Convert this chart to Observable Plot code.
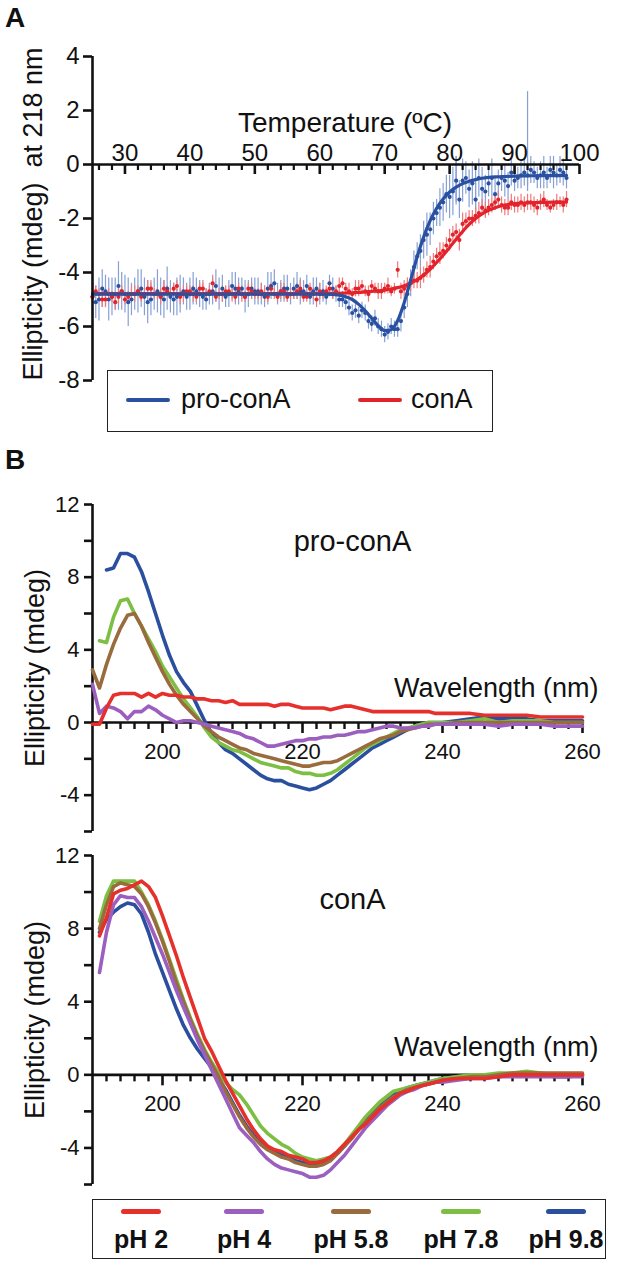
<!DOCTYPE html>
<html><head><meta charset="utf-8">
<script src="https://cdn.jsdelivr.net/npm/d3@7"></script>
<script src="https://cdn.jsdelivr.net/npm/@observablehq/plot@0.6"></script>
<style>
body{margin:0;background:#fff;font-family:"Liberation Sans",Arial,Helvetica,sans-serif;color:#111;}
#fig{position:relative;width:633px;height:1263px;overflow:hidden;background:#fff;}
.plabel{position:absolute;font-weight:bold;font-size:28px;line-height:1;}
.legend{position:absolute;border:1.5px solid #222;box-sizing:border-box;}
.lg-line{position:absolute;height:4px;border-radius:2px;}
.lg-text{position:absolute;white-space:nowrap;line-height:1;}
.ytitle{position:absolute;white-space:pre;line-height:1;transform:translate(-50%,-50%) rotate(-90deg);}
</style></head><body><div id="fig"></div>
<script>
// ---------------- Panel A data ----------------
const temps = [25,26,27,28,29,30,31,32,33,34,35,36,37,38,39,40,41,42,43,44,45,46,47,48,49,50,51,52,53,54,55,56,57,58,59,60,61,62,63,64,65,66,67,68,69,70,71,72,73,74,75,76,77,78,79,80,81,82,83,84,85,86,87,88,89,90,91,92,93,94,95,96,97,98];
const proConAVals = [-4.9,-5.0,-4.7,-4.9,-4.5,-4.8,-5.0,-4.7,-4.9,-5.0,
  -4.7,-5.0,-4.9,-4.9,-4.7,-4.8,-4.7,-4.9,-4.8,-4.5,
  -4.6,-4.8,-4.6,-4.6,-4.8,-4.7,-4.8,-4.6,-4.4,-4.7,
  -4.6,-4.6,-4.7,-4.5,-4.7,-4.8,-4.9,-4.6,-5.0,-5.1,
  -5.5,-5.6,-5.5,-5.9,-6.0,-6.3,-6.0,-6.1,-5.3,-4.4,
  -3.4,-2.8,-2.4,-1.8,-1.4,-1.2,-0.6,-0.6,-0.9,-1.3,
  -0.9,-0.7,-1.1,-0.5,-0.8,-0.6,-0.4,-0.4,-0.3,-0.4,
  -0.5,-0.3,-0.2,-0.5];
const proConAErr = [0.7,0.8,0.6,0.7,0.9,0.7,0.6,0.8,0.7,0.6,
  0.8,0.7,0.6,0.7,0.5,0.6,0.5,0.5,0.4,0.6,
  0.5,0.5,0.6,0.4,0.5,0.5,0.4,0.6,0.5,0.4,
  0.5,0.4,0.5,0.4,0.5,0.4,0.3,0.4,0.3,0.3,
  0.3,0.3,0.3,0.3,0.3,0.3,0.3,0.3,0.4,0.5,
  0.5,0.7,0.6,0.5,0.7,0.8,0.9,0.8,0.7,0.6,
  0.8,0.5,0.6,0.5,0.5,0.4,0.5,0.6,0.4,0.5,
  0.4,0.6,0.5,0.4];
const conAVals = [-4.9,-4.8,-5.0,-4.9,-4.9,-5.0,-4.8,-4.7,-4.8,-4.6,
  -4.8,-4.6,-4.8,-4.5,-4.8,-4.7,-4.9,-4.6,-4.7,-4.9,
  -4.8,-4.7,-4.9,-4.8,-4.6,-4.8,-4.7,-4.9,-4.8,-4.7,
  -4.9,-4.8,-4.6,-4.9,-4.8,-4.7,-4.7,-4.8,-4.5,-4.6,
  -4.8,-4.6,-4.7,-4.5,-4.7,-4.6,-4.7,-3.9,-4.6,-4.4,
  -4.3,-4.1,-3.8,-3.4,-3.2,-2.8,-2.5,-2.2,-2.0,-1.9,
  -1.6,-1.6,-1.4,-1.5,-1.6,-1.5,-1.4,-1.4,-1.5,-1.4,
  -1.5,-1.5,-1.4,-1.3];
const conAErr = [0.3,0.2,0.3,0.2,0.3,0.2,0.3,0.2,0.2,0.3,
  0.2,0.3,0.2,0.2,0.3,0.2,0.2,0.3,0.2,0.2,
  0.3,0.2,0.2,0.3,0.2,0.2,0.3,0.2,0.2,0.3,
  0.2,0.2,0.3,0.2,0.2,0.3,0.2,0.2,0.3,0.2,
  0.2,0.3,0.2,0.2,0.3,0.2,0.2,0.3,0.3,0.3,
  0.3,0.3,0.4,0.3,0.3,0.4,0.3,0.4,0.3,0.3,
  0.3,0.3,0.3,0.3,0.3,0.3,0.3,0.3,0.3,0.3,
  0.2,0.2,0.2,0.3];
// half-degree readings
const tempsHalf = [25.5,26.5,27.5,28.5,29.5,30.5,31.5,32.5,33.5,34.5,35.5,36.5,37.5,38.5,39.5,40.5,41.5,42.5,43.5,44.5,45.5,46.5,47.5,48.5,49.5,50.5,51.5,52.5,53.5,54.5,55.5,56.5,57.5,58.5,59.5,60.5,61.5,62.5,63.5,64.5,65.5,66.5,67.5,68.5,69.5,70.5,71.5,72.5,73.5,74.5,75.5,76.5,77.5,78.5,79.5,80.5,81.5,82.5,83.5,84.5,85.5,86.5,87.5,88.5,89.5,90.5,91.5,92.5,93.5,94.5,95.5,96.5,97.5];
const proConAHalfVals = [-5.1,-4.6,-5.0,-4.8,-4.7,-5.1,-4.8,-4.6,-5.1,-4.8,
  -4.9,-4.6,-5.0,-4.8,-4.9,-4.6,-4.8,-5.0,-4.7,-4.8,
  -4.9,-4.5,-4.7,-4.9,-4.6,-4.7,-4.9,-4.5,-4.8,-4.6,
  -4.8,-4.5,-4.7,-4.9,-4.6,-4.7,-4.4,-4.8,-5.0,-5.3,
  -5.4,-5.4,-5.8,-5.7,-6.1,-6.2,-6.1,-5.8,-4.8,-3.8,
  -3.2,-2.6,-2.0,-1.6,-1.1,-1.0,-1.3,-0.5,-0.7,-0.5,
  -1.0,-0.5,-0.7,-0.6,-0.3,-0.5,-0.3,-0.2,-0.5,-0.3,
  -0.2,-0.4,-0.3];
const proConAHalfErr = [0.6,0.7,0.8,0.6,0.7,0.9,0.6,0.7,0.8,0.6,
  0.7,0.8,0.6,0.7,0.5,0.6,0.5,0.4,0.5,0.6,
  0.4,0.5,0.5,0.6,0.4,0.5,0.4,0.5,0.4,0.5,
  0.4,0.5,0.4,0.3,0.4,0.4,0.3,0.3,0.3,0.3,
  0.3,0.3,0.3,0.3,0.3,0.3,0.3,0.4,0.5,0.6,
  0.6,0.8,0.6,0.7,0.7,0.9,0.7,0.6,0.8,0.7,
  0.6,0.7,0.5,0.6,0.5,0.4,0.5,0.5,0.4,0.6,
  0.5,0.4,0.5];
const conAHalfVals = [-4.7,-5.0,-4.8,-5.1,-4.7,-4.9,-4.8,-4.9,-4.6,-4.8,
  -4.9,-4.7,-4.6,-4.9,-4.7,-4.8,-4.6,-4.8,-4.4,-4.8,
  -4.7,-4.8,-4.6,-4.9,-4.7,-4.8,-4.8,-4.6,-4.9,-4.7,
  -4.8,-4.7,-4.9,-4.6,-5.0,-4.8,-4.6,-4.7,-4.4,-4.7,
  -4.6,-4.5,-4.8,-4.6,-4.7,-4.5,-4.6,-4.7,-4.5,-4.3,
  -4.2,-3.9,-3.6,-3.3,-3.0,-2.6,-2.8,-2.1,-2.0,-1.8,
  -1.7,-1.5,-1.3,-1.6,-1.4,-1.5,-1.5,-1.4,-1.6,-1.3,
  -1.6,-1.4,-1.5];
const conAHalfErr = [0.2,0.3,0.2,0.3,0.2,0.2,0.3,0.2,0.3,0.2,
  0.3,0.2,0.2,0.3,0.2,0.3,0.2,0.2,0.3,0.2,
  0.2,0.3,0.2,0.2,0.3,0.2,0.3,0.2,0.2,0.3,
  0.2,0.3,0.2,0.2,0.3,0.2,0.3,0.2,0.2,0.3,
  0.3,0.2,0.3,0.2,0.3,0.3,0.2,0.3,0.3,0.3,
  0.4,0.3,0.3,0.4,0.3,0.3,0.4,0.3,0.3,0.4,
  0.3,0.3,0.3,0.3,0.3,0.3,0.3,0.3,0.3,0.3,
  0.2,0.3,0.3];
const proConALongBars = [{t:92, lo:-0.8, hi:2.7},{t:81, lo:-1.4, hi:0.3},{t:84, lo:-2.0, hi:-0.2}];
const fitTemps = [25,60,62,63,64,65,66,67,68,69,70,71,72,73,74,75,76,77,78,79,80,81,82,83,84,85,86,87,88,89,90,92,94,96,98];
const proConAFit = [-4.8,-4.8,-4.81,-4.84,-4.9,-5.0,-5.18,-5.42,-5.7,-5.97,-6.15,-6.12,-5.78,-5.12,-4.28,-3.42,-2.68,-2.08,-1.62,-1.28,-1.02,-0.84,-0.71,-0.62,-0.56,-0.51,-0.48,-0.46,-0.45,-0.44,-0.43,-0.42,-0.41,-0.41,-0.4];
const conAFit = [-4.78,-4.78,-4.77,-4.77,-4.76,-4.75,-4.74,-4.72,-4.7,-4.68,-4.65,-4.61,-4.56,-4.49,-4.39,-4.26,-4.09,-3.88,-3.63,-3.36,-3.07,-2.77,-2.48,-2.22,-2.0,-1.83,-1.7,-1.6,-1.53,-1.48,-1.45,-1.42,-1.4,-1.39,-1.39];
const tempMajorTicks = [30,40,50,60,70,80,90,100];
const tempMinorTicks = [26,28,32,34,36,38,42,44,46,48,52,54,56,58,62,64,66,68,72,74,76,78,82,84,86,88,92,94,96,98];
const ellipTicksA = [-8,-6,-4,-2,0,2,4];

// ---------------- Panel B data ----------------
const wavelengths = [190,191,192,193,194,195,196,197,198,199,200,201,202,203,204,205,206,207,208,209,210,211,212,213,214,215,216,217,218,219,220,221,222,223,224,225,226,227,228,229,230,231,232,233,234,235,236,237,238,239,240,242,244,246,248,250,252,254,256,258,260];
const phLabels = ["pH 2","pH 4","pH 5.8","pH 7.8","pH 9.8"];
const phColors = ["#e5302c","#9b5fc0","#9a6b3c","#7cbf42","#2b4f9f"];
// pro-conA spectra
const pro_pH2 = [-0.1,-0.1,0.8,1.5,1.6,1.6,1.6,1.4,1.6,1.4,
  1.6,1.5,1.5,1.4,1.4,1.3,1.3,1.2,1.2,1.1,
  1.2,1.0,1.0,1.0,1.0,1.0,0.9,1.0,1.0,0.9,
  0.8,0.8,0.8,0.8,0.7,0.8,0.9,0.9,0.8,0.7,
  0.6,0.6,0.6,0.6,0.6,0.6,0.6,0.6,0.6,0.5,
  0.5,
  0.5,0.5,0.4,0.4,0.4,0.4,0.3,0.3,0.3,0.3];
const pro_pH4 = [2.1,0.5,0.9,0.8,0.6,0.2,0.6,0.6,0.9,0.7,
  0.4,0.2,0.0,0.1,0.1,0.0,-0.1,-0.2,-0.3,-0.4,
  -0.5,-0.6,-0.8,-0.9,-1.1,-1.3,-1.3,-1.2,-1.1,-1.0,
  -1.0,-0.9,-0.9,-0.8,-0.8,-0.7,-0.7,-0.6,-0.5,-0.5,
  -0.4,-0.3,-0.2,-0.2,-0.3,-0.3,-0.3,-0.2,-0.2,-0.1,
  -0.1,
  -0.1,-0.1,-0.1,-0.2,-0.1,-0.1,-0.1,-0.2,-0.2,-0.2];
const pro_pH58 = [2.9,1.9,3.2,4.3,5.2,5.9,6.0,5.3,4.4,3.6,
  2.8,2.1,1.5,1.0,0.6,0.2,-0.2,-0.5,-0.8,-1.0,
  -1.2,-1.4,-1.5,-1.7,-1.8,-1.9,-2.0,-2.1,-2.2,-2.3,
  -2.4,-2.4,-2.3,-2.2,-2.2,-2.1,-1.9,-1.7,-1.5,-1.3,
  -1.1,-0.9,-0.8,-0.7,-0.5,-0.4,-0.3,-0.2,-0.1,-0.1,
  -0.1,
  0.0,0.0,0.0,0.0,0.0,0.0,0.0,0.0,0.0,0.0];
const pro_pH78 = [null,4.5,4.4,5.8,6.7,6.8,6.0,5.3,4.6,3.9,
  3.1,2.5,1.9,1.3,0.8,0.3,-0.3,-0.8,-1.1,-1.3,
  -1.5,-1.6,-1.8,-2.0,-2.2,-2.3,-2.4,-2.5,-2.5,-2.7,
  -2.8,-2.8,-2.9,-2.9,-2.8,-2.6,-2.3,-2.0,-1.7,-1.4,
  -1.2,-1.0,-0.8,-0.6,-0.4,-0.3,-0.2,-0.1,0.0,0.0,
  0.0,
  0.0,0.1,0.2,0.0,0.1,0.1,0.1,0.0,0.0,0.0];
const pro_pH98 = [null,null,8.4,8.5,9.3,9.3,9.1,8.3,7.2,6.0,
  4.8,3.7,2.8,2.2,1.7,0.9,0.1,-0.6,-1.1,-1.5,
  -1.7,-2.0,-2.3,-2.6,-2.9,-3.1,-3.2,-3.2,-3.4,-3.5,
  -3.6,-3.7,-3.6,-3.4,-3.2,-2.9,-2.6,-2.3,-2.0,-1.7,
  -1.4,-1.2,-1.0,-0.8,-0.6,-0.4,-0.2,-0.1,0.0,0.0,
  0.0,
  0.1,0.2,0.3,0.2,0.2,0.2,0.1,0.1,0.1,0.1];
// conA spectra
const con_pH2 = [null,7.6,8.6,9.9,10.1,10.2,10.4,10.6,10.3,9.7,
  8.7,7.6,6.5,5.3,4.2,3.1,2.0,1.3,0.5,-0.3,
  -1.0,-1.7,-2.4,-3.0,-3.5,-3.9,-4.1,-4.2,-4.4,-4.5,
  -4.6,-4.8,-4.8,-4.7,-4.5,-4.2,-3.8,-3.4,-3.0,-2.7,
  -2.3,-1.9,-1.6,-1.3,-1.0,-0.9,-0.7,-0.6,-0.5,-0.4,
  -0.3,
  -0.2,-0.2,-0.2,-0.1,0.0,0.0,0.0,0.0,0.0,0.0];
const con_pH4 = [null,5.6,7.8,9.3,9.8,9.7,9.7,9.2,8.4,7.5,
  6.6,5.6,4.6,3.7,2.8,1.9,1.1,0.3,-0.5,-1.3,
  -2.1,-2.9,-3.3,-3.7,-4.2,-4.6,-4.9,-5.1,-5.2,-5.3,
  -5.4,-5.6,-5.6,-5.5,-5.2,-4.8,-4.4,-3.9,-3.4,-2.9,
  -2.5,-2.1,-1.7,-1.4,-1.1,-0.9,-0.8,-0.6,-0.5,-0.4,
  -0.4,
  -0.3,-0.2,-0.2,-0.1,-0.1,-0.1,-0.1,-0.1,-0.1,-0.1];
const con_pH58 = [null,8.0,9.3,10.3,10.5,10.4,10.3,9.9,9.2,8.3,
  7.3,6.2,5.0,4.0,3.0,2.1,1.3,0.6,-0.1,-0.9,
  -1.6,-2.3,-2.9,-3.4,-3.8,-4.1,-4.3,-4.5,-4.6,-4.8,
  -4.9,-5.0,-5.0,-4.9,-4.7,-4.3,-3.9,-3.5,-3.0,-2.6,
  -2.2,-1.8,-1.5,-1.2,-1.0,-0.8,-0.7,-0.6,-0.5,-0.4,
  -0.3,
  -0.2,-0.1,-0.1,0.0,0.1,0.1,0.1,0.1,0.1,0.1];
const con_pH78 = [null,8.4,9.8,10.6,10.6,10.6,10.6,10.0,9.3,8.4,
  7.4,6.3,5.2,4.1,3.1,2.2,1.4,0.7,0.1,-0.4,
  -0.8,-1.1,-1.6,-2.2,-2.8,-3.2,-3.5,-3.8,-4.0,-4.3,
  -4.5,-4.6,-4.7,-4.6,-4.5,-4.2,-3.8,-3.3,-2.8,-2.3,
  -1.9,-1.5,-1.2,-0.9,-0.8,-0.7,-0.6,-0.5,-0.4,-0.3,
  -0.2,
  -0.1,0.0,0.0,0.1,0.1,0.2,0.1,0.0,0.0,0.0];
const con_pH98 = [null,7.8,8.5,8.9,9.2,9.4,9.3,8.8,7.8,6.6,
  5.6,4.6,3.6,2.7,2.0,1.4,0.9,0.4,-0.2,-0.8,
  -1.5,-2.2,-2.8,-3.3,-3.7,-4.0,-4.2,-4.4,-4.5,-4.7,
  -4.8,-4.9,-4.9,-4.8,-4.6,-4.3,-3.9,-3.4,-3.0,-2.5,
  -2.1,-1.7,-1.4,-1.1,-0.9,-0.7,-0.6,-0.5,-0.4,-0.3,
  -0.2,
  -0.1,-0.1,-0.1,-0.1,0.0,0.0,0.0,-0.1,-0.1,0.0];
const wlMajorTicks = [200,220,240,260];
const wlMinorTicks = [192,194,196,198,202,204,206,208,210,212,214,216,218,222,224,226,228,230,232,234,236,238,242,244,246,248,250,252,254,256,258];
const ellipTicksB = [-4,0,4,8,12];
const ellipMinorB = [-6,-2,2,6,10];

// ---------------- helpers ----------------
const FONT = "'Liberation Sans', Arial, Helvetica, sans-serif";
const W = 633;
const fig = document.getElementById("fig");
const INK = "#111";
function put(el, top, left){ el.style.position="absolute"; el.style.top=top+"px"; el.style.left=(left||0)+"px"; fig.appendChild(el); }
function div(cls, html, css){ const d=document.createElement("div"); if(cls) d.className=cls; if(html!=null) d.textContent=html; if(css) Object.assign(d.style, css); return d; }
function yTitle(text, cx, cy, size){ const d=div("ytitle", text, {left:cx+"px", top:cy+"px", fontSize:size+"px"}); fig.appendChild(d); }

// ---------------- Panel A ----------------
(function(){
  const mT=56, mB=12, mL=92, mR=54, h=392;
  const xDom=[25,100], yDom=[-8,4];
  const ky=(h-mT-mB)/(yDom[1]-yDom[0]);
  const kx=(W-mL-mR)/(xDom[1]-xDom[0]);
  const blueC="#2a50a0", redC="#e3232b", blueBar="#86a0d6", redBar="#ef7a7a";
  const pro = temps.map((t,i)=>({t, v:proConAVals[i], e:proConAErr[i]}))
    .concat(tempsHalf.map((t,i)=>({t, v:proConAHalfVals[i], e:proConAHalfErr[i]})));
  const con = temps.map((t,i)=>({t, v:conAVals[i], e:conAErr[i]}))
    .concat(tempsHalf.map((t,i)=>({t, v:conAHalfVals[i], e:conAHalfErr[i]})));
  const fit = fitTemps.map((t,i)=>({t, pro:proConAFit[i], con:conAFit[i]}));
  const p = Plot.plot({
    width:W, height:h, marginTop:mT, marginBottom:mB, marginLeft:mL, marginRight:mR,
    x:{domain:xDom, axis:null}, y:{domain:yDom, axis:null},
    style:{background:"transparent", overflow:"visible", fontFamily:FONT, color:INK},
    marks:[
      Plot.ruleX(pro,{x:"t", y1:d=>d.v-d.e, y2:d=>d.v+d.e, stroke:blueBar, strokeWidth:1.2}),
      Plot.ruleX(proConALongBars,{x:"t", y1:"lo", y2:"hi", stroke:blueBar, strokeWidth:1.2}),
      Plot.ruleX(con,{x:"t", y1:d=>d.v-d.e, y2:d=>d.v+d.e, stroke:redBar, strokeWidth:1.2}),
      Plot.dot(pro,{x:"t", y:"v", r:2.1, fill:blueC}),
      Plot.dot(con,{x:"t", y:"v", r:2.1, fill:redC}),
      Plot.line(fit,{x:"t", y:"con", stroke:redC, strokeWidth:3.2, curve:"monotone-x"}),
      Plot.line(fit,{x:"t", y:"pro", stroke:blueC, strokeWidth:3.2, curve:"monotone-x"}),
      // x axis on y = 0
      Plot.ruleY([0],{x1:xDom[0], x2:xDom[1], stroke:INK, strokeWidth:2.6}),
      Plot.ruleX(tempMajorTicks,{x:d=>d, y1:0, y2:-10/ky, stroke:INK, strokeWidth:2.6}),
      Plot.ruleX(tempMinorTicks,{x:d=>d, y1:0, y2:-6/ky, stroke:INK, strokeWidth:2.2}),
      Plot.text(tempMajorTicks,{x:d=>d, y:0, text:d=>String(d), dy:-4, lineAnchor:"bottom", fontSize:24, fill:INK}),
      // y axis
      Plot.ruleX([xDom[0]],{y1:yDom[0], y2:yDom[1], stroke:INK, strokeWidth:2.6}),
      Plot.ruleY(ellipTicksA,{y:d=>d, x1:xDom[0], x2:xDom[0]-9/kx, stroke:INK, strokeWidth:2.6}),
      Plot.text(ellipTicksA,{x:xDom[0], y:d=>d, text:d=>String(d), dx:-13, textAnchor:"end", fontSize:24, fill:INK}),
      Plot.text(["Temperature (\u00baC)"],{frameAnchor:"top", dx:9, dy:56, fontSize:28, fill:INK})
    ]
  });
  put(p, 0, 0);
  yTitle("Ellipticity (mdeg)  at 218 nm", 33, 214, 27);
  // legend A
  const lg = div("legend", null, {left:"107px", top:"370px", width:"386px", height:"62px"});
  fig.appendChild(lg);
  const entries=[{c:blueC, t:"pro-conA", lx:18, tx:73},{c:redC, t:"conA", lx:250, tx:303}];
  entries.forEach(e=>{
    lg.appendChild(div("lg-line", null, {left:e.lx+"px", top:"27px", width:"44px", background:e.c, height:"3.5px"}));
    lg.appendChild(div("lg-text", e.t, {left:e.tx+"px", top:"15px", fontSize:"27px"}));
  });
  put(div("plabel","A"), 4, 5);
})();

// ---------------- Panel B ----------------
function spectraPanel(series, title, titleDy, top, mT, frameH, wlDy){
  const mB=12, mL=92, mR=51, h=mT+frameH+mB;
  const xDom=[190,260], yDom=[-6,12];
  const ky=frameH/(yDom[1]-yDom[0]);
  const kx=(W-mL-mR)/(xDom[1]-xDom[0]);
  const rows=[];
  // draw order: 9.8, 7.8, 5.8, 4, 2 (pH 2 on top)
  [4,3,2,1,0].forEach(k=>{
    series[k].forEach((v,i)=>{ if(v!=null) rows.push({w:wavelengths[i], v, ph:phLabels[k]}); });
  });
  const p = Plot.plot({
    width:W, height:h, marginTop:mT, marginBottom:mB, marginLeft:mL, marginRight:mR,
    x:{domain:xDom, axis:null}, y:{domain:yDom, axis:null},
    color:{domain:phLabels, range:phColors},
    style:{background:"transparent", overflow:"visible", fontFamily:FONT, color:INK},
    marks:[
      Plot.ruleY([0],{x1:xDom[0], x2:xDom[1], stroke:INK, strokeWidth:2.6}),
      Plot.ruleX(wlMajorTicks,{x:d=>d, y1:0, y2:-11/ky, stroke:INK, strokeWidth:2.6}),
      Plot.ruleX(wlMinorTicks,{x:d=>d, y1:0, y2:-7/ky, stroke:INK, strokeWidth:2.4}),
      Plot.text(wlMajorTicks,{x:d=>d, y:0, text:d=>String(d), dy:29, fontSize:22, fill:INK}),
      Plot.ruleX([xDom[0]],{y1:yDom[0], y2:yDom[1], stroke:INK, strokeWidth:2.6}),
      Plot.ruleY(ellipTicksB.concat(ellipMinorB),{y:d=>d, x1:xDom[0], x2:xDom[0]-8/kx, stroke:INK, strokeWidth:2.6}),
      Plot.text(ellipTicksB,{x:xDom[0], y:d=>d, text:d=>String(d), dx:-13, textAnchor:"end", fontSize:22, fill:INK}),
      Plot.line(rows,{x:"w", y:"v", z:"ph", stroke:"ph", strokeWidth:3.6, strokeLinejoin:"round"}),
      Plot.text([title],{frameAnchor:"top", dx:15, dy:titleDy, fontSize:29, fill:INK}),
      Plot.text(["Wavelength (nm)"],{frameAnchor:"top-right", textAnchor:"end", dx:16, dy:wlDy, lineAnchor:"middle", fontSize:27, fill:INK})
    ]
  });
  put(p, top, 0);
  yTitle("Ellipticity (mdeg)", 35, top+mT+frameH/2, 27);
}
spectraPanel([pro_pH2, pro_pH4, pro_pH58, pro_pH78, pro_pH98], "pro-conA", 26, 460, 44, 327, 184);
spectraPanel([con_pH2, con_pH4, con_pH58, con_pH78, con_pH98], "conA", 33, 830, 25, 329, 192);
put(div("plabel","B"), 446, 5);

// legend B
(function(){
  const lg = div("legend", null, {left:"92px", top:"1199px", width:"514px", height:"60px"});
  fig.appendChild(lg);
  const centers=[48,151,258,368,473];
  phLabels.forEach((lab,i)=>{
    lg.appendChild(div("lg-line", null, {left:(centers[i]-20)+"px", top:"9px", width:"40px", height:"5px", background:phColors[i], borderRadius:"3px"}));
    lg.appendChild(div("lg-text", lab, {top:"27px", fontSize:"25px", fontWeight:"bold", width:"110px", left:(centers[i]-55)+"px", textAlign:"center"}));
  });
})();
</script></body></html>
